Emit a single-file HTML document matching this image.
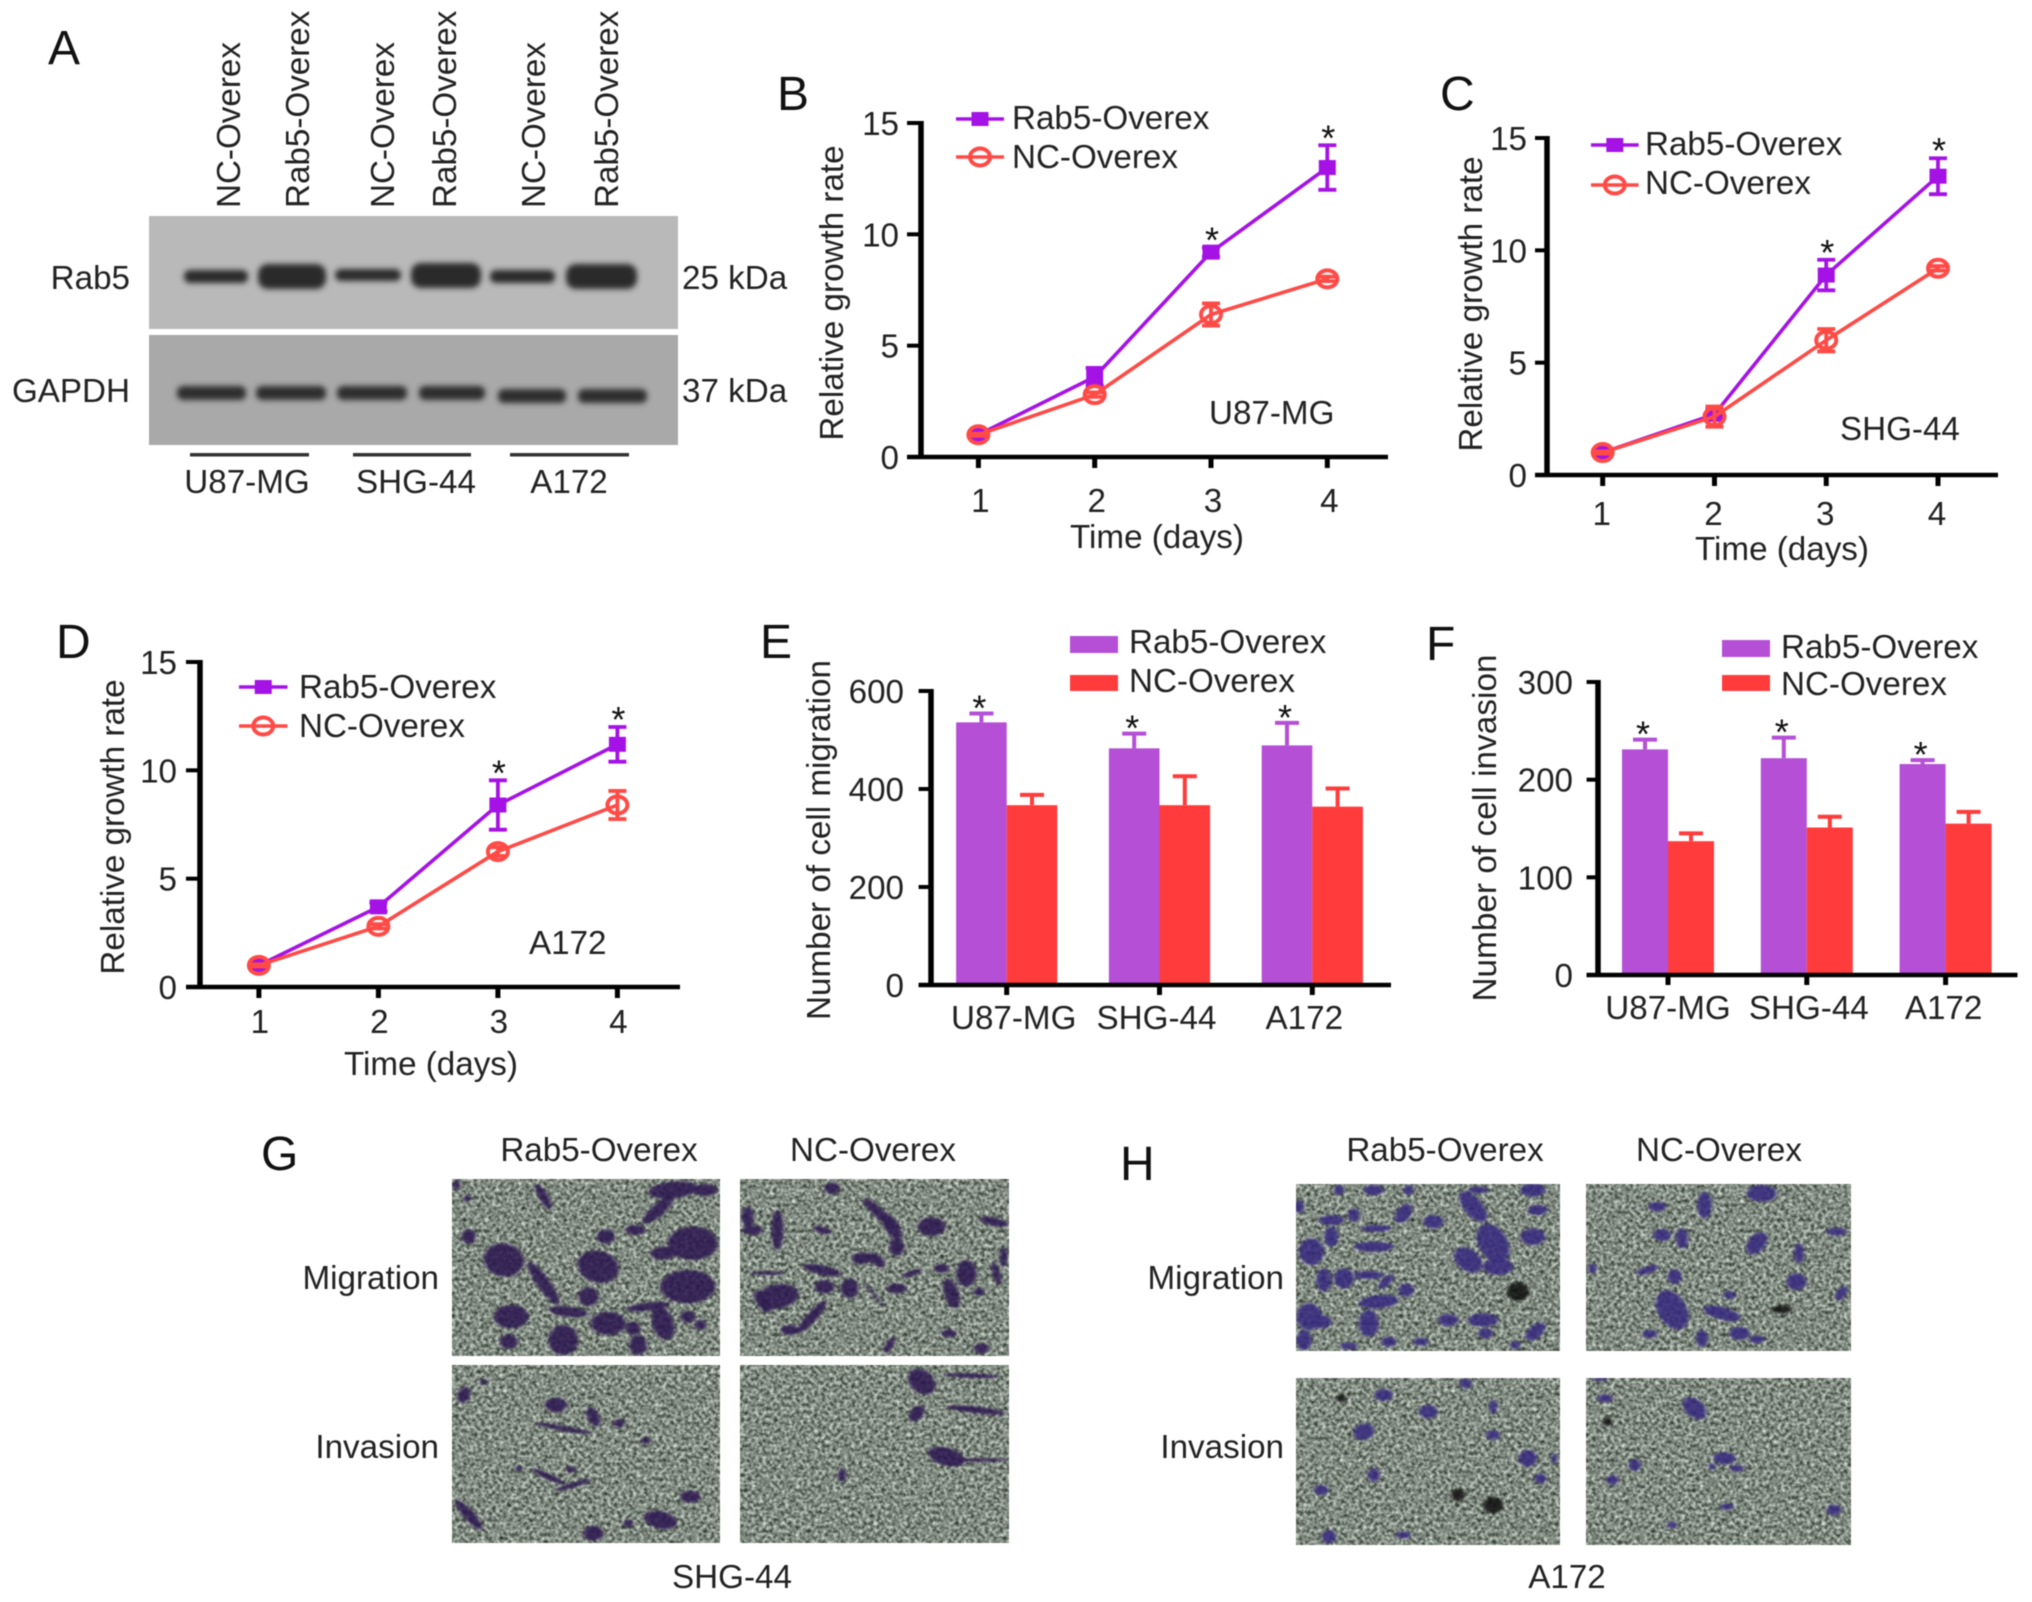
<!DOCTYPE html>
<html lang="en">
<head>
<meta charset="utf-8">
<title>Rab5 overexpression figure</title>
<style>
html,body{margin:0;padding:0;background:#fff;width:2032px;height:1602px;overflow:hidden}
#figure{display:block;filter:blur(0.6px)}
text{font-family:"Liberation Sans",Arial,sans-serif;font-size:33.2px;fill:#222}
.letter{font-size:48px;fill:#111}
.star{font-size:36px;fill:#111}
</style>
</head>
<body>
<svg id="figure" xmlns="http://www.w3.org/2000/svg" width="2032" height="1602" viewBox="0 0 2032 1602">
<defs>
  <filter id="micro-noise" x="0" y="0" width="100%" height="100%" color-interpolation-filters="sRGB">
    <feTurbulence type="fractalNoise" baseFrequency="0.27" numOctaves="3" seed="7"/>
    <feColorMatrix type="matrix" values="0.95 0 0 0 0.03  0.95 0 0 0 0.07  0.95 0 0 0 0.03  0 0 0 0 1"/>
  </filter>
  <filter id="soft-cell" x="-30%" y="-30%" width="160%" height="160%"><feGaussianBlur stdDeviation="3"/></filter>
  <filter id="soft-band" x="-20%" y="-80%" width="140%" height="260%"><feGaussianBlur stdDeviation="3"/></filter>
  <clipPath id="clip-g"><rect x="452" y="1179" width="268" height="177"/><rect x="740" y="1179" width="269" height="177"/><rect x="452" y="1365" width="268" height="178"/><rect x="740" y="1365" width="269" height="178"/></clipPath>
  <clipPath id="clip-h"><rect x="1296" y="1184" width="264" height="167"/><rect x="1586" y="1184" width="265" height="167"/><rect x="1296" y="1378" width="264" height="167"/><rect x="1586" y="1378" width="265" height="167"/></clipPath>
</defs>

<!-- Panel A: western blot -->
<g id="panel-a">
  <text class="letter" x="48" y="64">A</text>
  <text transform="translate(240,208) rotate(-90)">NC-Overex</text>
  <text transform="translate(309,208) rotate(-90)">Rab5-Overex</text>
  <text transform="translate(394,208) rotate(-90)">NC-Overex</text>
  <text transform="translate(456,208) rotate(-90)">Rab5-Overex</text>
  <text transform="translate(545,208) rotate(-90)">NC-Overex</text>
  <text transform="translate(618,208) rotate(-90)">Rab5-Overex</text>
  <rect x="149" y="216" width="529" height="113" fill="#b9b9b9"/>
  <rect x="149" y="335" width="529" height="110" fill="#a9a9a9"/>
  <g filter="url(#soft-band)" fill="#2c2c2c">
    <rect x="184" y="270" width="64" height="13" rx="6"/>
    <rect x="258" y="264" width="68" height="25" rx="10"/>
    <rect x="335" y="269" width="66" height="12" rx="6"/>
    <rect x="411" y="263" width="70" height="25" rx="10"/>
    <rect x="490" y="270" width="65" height="13" rx="6"/>
    <rect x="566" y="264" width="71" height="25" rx="10"/>
  </g>
  <g filter="url(#soft-band)" fill="#2e2e2e">
    <rect x="177" y="386" width="69" height="14" rx="6"/>
    <rect x="256" y="386" width="70" height="14" rx="6"/>
    <rect x="337" y="386" width="70" height="14" rx="6"/>
    <rect x="419" y="386" width="66" height="14" rx="6"/>
    <rect x="498" y="389" width="68" height="14" rx="6"/>
    <rect x="578" y="389" width="69" height="14" rx="6"/>
  </g>
  <text x="130" y="289" text-anchor="end">Rab5</text>
  <text x="130" y="402" text-anchor="end">GAPDH</text>
  <text x="682" y="289">25 kDa</text>
  <text x="682" y="402">37 kDa</text>
  <rect x="190" y="453" width="119" height="3.5" fill="#333"/>
  <rect x="353" y="453" width="118" height="3.5" fill="#333"/>
  <rect x="510" y="453" width="119" height="3.5" fill="#333"/>
  <text x="247" y="493" text-anchor="middle">U87-MG</text>
  <text x="416" y="493" text-anchor="middle">SHG-44</text>
  <text x="569" y="493" text-anchor="middle">A172</text>
</g>

<!-- Panel B -->
<g id="panel-b">
  <text class="letter" x="777" y="110">B</text>
  <text transform="translate(843,293) rotate(-90)" text-anchor="middle">Relative growth rate</text>
  <text x="1157" y="548" text-anchor="middle">Time (days)</text>
  <text x="1209" y="424">U87-MG</text>
  <text x="1012" y="129">Rab5-Overex</text>
  <text x="1012" y="168">NC-Overex</text>
</g>
<!-- Panel C -->
<g id="panel-c">
  <text class="letter" x="1440" y="110">C</text>
  <text transform="translate(1482,304) rotate(-90)" text-anchor="middle">Relative growth rate</text>
  <text x="1782" y="560" text-anchor="middle">Time (days)</text>
  <text x="1840" y="440">SHG-44</text>
  <text x="1645" y="155">Rab5-Overex</text>
  <text x="1645" y="194">NC-Overex</text>
</g>
<!-- Panel D -->
<g id="panel-d">
  <text class="letter" x="56" y="658">D</text>
  <text transform="translate(124,827) rotate(-90)" text-anchor="middle">Relative growth rate</text>
  <text x="431" y="1075" text-anchor="middle">Time (days)</text>
  <text x="529" y="954">A172</text>
  <text x="299" y="698">Rab5-Overex</text>
  <text x="299" y="737">NC-Overex</text>
</g>
<!-- Panel E -->
<g id="panel-e">
  <text class="letter" x="760" y="658">E</text>
  <text transform="translate(830,840) rotate(-90)" text-anchor="middle" textLength="360">Number of cell migration</text>
  <rect x="1070" y="636" width="48" height="17" fill="#b44fd6"/>
  <rect x="1070" y="675" width="48" height="16" fill="#ff3b3b"/>
  <text x="1129" y="653">Rab5-Overex</text>
  <text x="1129" y="692">NC-Overex</text>
</g>
<!-- Panel F -->
<g id="panel-f">
  <text class="letter" x="1426" y="660">F</text>
  <text transform="translate(1496,828) rotate(-90)" text-anchor="middle" textLength="347">Number of cell invasion</text>
  <rect x="1722" y="640" width="48" height="17" fill="#b44fd6"/>
  <rect x="1722" y="675" width="48" height="16" fill="#ff3b3b"/>
  <text x="1781" y="658">Rab5-Overex</text>
  <text x="1781" y="695">NC-Overex</text>
</g>

<!-- Panels G, H: micrographs -->
<g id="panel-g">
  <text class="letter" x="261" y="1170">G</text>
  <text x="599" y="1161" text-anchor="middle">Rab5-Overex</text>
  <text x="873" y="1161" text-anchor="middle">NC-Overex</text>
  <text x="439" y="1289" text-anchor="end">Migration</text>
  <text x="439" y="1458" text-anchor="end">Invasion</text>
  <text x="732" y="1588" text-anchor="middle">SHG-44</text>
  <g clip-path="url(#clip-g)">
    <rect x="452" y="1179" width="268" height="177" filter="url(#micro-noise)"/>
    <rect x="740" y="1179" width="269" height="177" filter="url(#micro-noise)"/>
    <rect x="452" y="1365" width="268" height="178" filter="url(#micro-noise)"/>
    <rect x="740" y="1365" width="269" height="178" filter="url(#micro-noise)"/>
    <g id="cells-g" transform="translate(250,1110) scale(0.4975,0.3333)" filter="url(#soft-cell)"></g>
    <rect x="452" y="1179" width="557" height="364" filter="url(#micro-noise)" opacity="0.1"/>
  </g>
</g>
<g id="panel-h">
  <text class="letter" x="1120" y="1180">H</text>
  <text x="1445" y="1161" text-anchor="middle">Rab5-Overex</text>
  <text x="1719" y="1161" text-anchor="middle">NC-Overex</text>
  <text x="1284" y="1289" text-anchor="end">Migration</text>
  <text x="1284" y="1458" text-anchor="end">Invasion</text>
  <text x="1567" y="1588" text-anchor="middle">A172</text>
  <g clip-path="url(#clip-h)">
    <rect x="1296" y="1184" width="264" height="167" filter="url(#micro-noise)"/>
    <rect x="1586" y="1184" width="265" height="167" filter="url(#micro-noise)"/>
    <rect x="1296" y="1378" width="264" height="167" filter="url(#micro-noise)"/>
    <rect x="1586" y="1378" width="265" height="167" filter="url(#micro-noise)"/>
    <g id="cells-h" transform="translate(1110,1110) scale(0.4975,0.3333)" filter="url(#soft-cell)"></g>
    <rect x="1296" y="1184" width="555" height="361" filter="url(#micro-noise)" opacity="0.1"/>
  </g>
</g>
</svg>

<script>
// ---- Chart data ----
const days = [1, 2, 3, 4];
const growthTicks = [0, 5, 10, 15];
const u87Rab = [1, 3.6, 9.2, 13];
const u87RabErr = [0.05, 0.4, 0.2, 1];
const u87Nc = [1, 2.8, 6.4, 8];
const u87NcErr = [0.05, 0.1, 0.5, 0.1];
const u87Stars = [0, 0, 1, 1];
const shgRab = [1, 2.7, 8.9, 13.3];
const shgRabErr = [0.05, 0.2, 0.68, 0.8];
const shgNc = [1, 2.6, 6, 9.2];
const shgNcErr = [0.05, 0.45, 0.5, 0.1];
const shgStars = [0, 0, 1, 1];
const a172Rab = [1, 3.7, 8.4, 11.2];
const a172RabErr = [0.05, 0.2, 1.14, 0.8];
const a172Nc = [1, 2.8, 6.25, 8.4];
const a172NcErr = [0.05, 0.1, 0.2, 0.65];
const a172Stars = [0, 0, 1, 1];
const cellLines = ['U87-MG', 'SHG-44', 'A172'];
const migrationTicks = [0, 200, 400, 600];
const migrationRab = [536, 483, 489];
const migrationRabTop = [554, 513, 535];
const migrationNc = [367, 367, 364];
const migrationNcTop = [388, 426, 401];
const invasionTicks = [0, 100, 200, 300];
const invasionRab = [231, 222, 216];
const invasionRabTop = [241, 243, 220];
const invasionNc = [137, 151, 155];
const invasionNcTop = [145, 162, 167];

const PURPLE = '#a512e6', RED = '#ff4a46', BAR_PURPLE = '#b44fd6', BAR_RED = '#ff3b3b';
const NS = 'http://www.w3.org/2000/svg';
function mk(tag, attrs, parent) {
  const el = document.createElementNS(NS, tag);
  for (const k in attrs) el.setAttribute(k, attrs[k]);
  parent.appendChild(el);
  return el;
}

function drawAxisY(g, f, ticks, yScale) {
  const axis = mk('line', {x1: f.ax, x2: f.ax, y1: yScale(ticks[ticks.length - 1]) - 2, y2: f.y0 + 2, stroke: '#000', 'stroke-width': 5.5}, g);
  
  
  ticks.forEach(t => {
    const tick = mk('line', {x1: f.left, x2: f.ax, y1: yScale(t), y2: yScale(t), stroke: '#000', 'stroke-width': 4}, g);
    
    
    const lab = mk('text', {x: f.tickRight, y: yScale(t) + 12, 'text-anchor': 'end'}, g);
    lab.textContent = t;
    
    
  });
}
function drawAxisX(g, f) {
  const axis = mk('line', {x1: f.left, x2: f.right, y1: f.y0, y2: f.y0, stroke: '#000', 'stroke-width': 4.5}, g);
  
  
}

function drawSeries(g, vals, errs, xScale, yScale, color, kind) {
  const pts = vals.map((v, i) => xScale(days[i]) + ',' + yScale(v)).join(' ');
  const line = mk('polyline', {points: pts, fill: 'none', stroke: color, 'stroke-width': 3.6, 'stroke-linejoin': 'round'}, g);
  
  
  vals.forEach((v, i) => {
    const x = xScale(days[i]), yHi = yScale(v + errs[i]), yLo = yScale(v - errs[i]);
    const stem = mk('path', {d: 'M' + x + ' ' + yHi + 'V' + yLo + 'M' + (x - 9) + ' ' + yHi + 'H' + (x + 9) + 'M' + (x - 9) + ' ' + yLo + 'H' + (x + 9), fill: 'none', stroke: color, 'stroke-width': 3.8}, g);
    
    
    if (kind === 'rab5') {
      const m = mk('rect', {x: x - 8.5, y: yScale(v) - 7.5, width: 17, height: 15, fill: color}, g);
      
      
    } else {
      const m = mk('ellipse', {cx: x, cy: yScale(v), rx: 10, ry: 8.5, fill: 'none', stroke: color, 'stroke-width': 4}, g);
      
      
    }
  });
}

function drawLineChart(id, f, rab, rabErr, nc, ncErr, stars) {
  const g = document.getElementById(id);
  const xScale = d => f.x1 + (d - 1) * (f.x4 - f.x1) / 3;
  const yScale = v => f.y0 - v * (f.y0 - f.yTop) / 15;
  drawAxisY(g, f, growthTicks, yScale);
  drawAxisX(g, f);
  days.forEach(d => {
    const tick = mk('line', {x1: xScale(d), x2: xScale(d), y1: f.y0, y2: f.y0 + 11, stroke: '#000', 'stroke-width': 5}, g);
    
    
    const lab = mk('text', {x: xScale(d) + f.tickShift, y: f.tickBase, 'text-anchor': 'middle'}, g);
    lab.textContent = d;
    
    
  });
  drawSeries(g, rab, rabErr, xScale, yScale, PURPLE, 'rab5');
  drawSeries(g, nc, ncErr, xScale, yScale, RED, 'nc');
  stars.forEach((s, i) => {
    if (!s) return;
    const st = mk('text', {class: 'star', x: xScale(days[i]) + 1, y: yScale(rab[i] + rabErr[i]) + 5, 'text-anchor': 'middle'}, g);
    st.textContent = '*';
    
    
  });
  const l1 = mk('line', {x1: f.lx1, x2: f.lx2, y1: f.ly1, y2: f.ly1, stroke: PURPLE, 'stroke-width': 3.6}, g);
  
  
  const m1 = mk('rect', {x: (f.lx1 + f.lx2) / 2 - 8.5, y: f.ly1 - 7, width: 17, height: 14, fill: PURPLE}, g);
  
  
  const l2 = mk('line', {x1: f.lx1, x2: f.lx2, y1: f.ly2, y2: f.ly2, stroke: RED, 'stroke-width': 3.6}, g);
  
  
  const m2 = mk('ellipse', {cx: (f.lx1 + f.lx2) / 2, cy: f.ly2, rx: 10, ry: 8.5, fill: 'none', stroke: RED, 'stroke-width': 4}, g);
  
  
}

function drawBarChart(id, f, ticks, rab, rabTop, nc, ncTop) {
  const g = document.getElementById(id);
  const maxV = ticks[ticks.length - 1];
  const yScale = v => f.y0 - v * (f.y0 - f.yTop) / maxV;
  const cx = i => f.c0 + i * f.step;
  cellLines.forEach((name, i) => {
    const c = cx(i);
    [[rab, rabTop, BAR_PURPLE, c - f.bw, 'rab5'], [nc, ncTop, BAR_RED, c, 'nc']].forEach(s => {
      const v = s[0][i], top = s[1][i], bx = s[3];
      const err = mk('path', {d: 'M' + (bx + f.bw / 2) + ' ' + yScale(v) + 'V' + yScale(top) + 'M' + (bx + f.bw / 2 - 12) + ' ' + yScale(top) + 'H' + (bx + f.bw / 2 + 12), stroke: s[2], 'stroke-width': 4, fill: 'none'}, g);
      
      
      const bar = mk('rect', {x: bx, y: yScale(v), width: f.bw, height: f.y0 - yScale(v), fill: s[2]}, g);
      
      
    });
    const st = mk('text', {class: 'star', x: c - f.bw / 2 - 2, y: yScale(rabTop[i]) + 7, 'text-anchor': 'middle'}, g);
    st.textContent = '*';
    
    
    const tick = mk('line', {x1: c, x2: c, y1: f.y0, y2: f.y0 + 10, stroke: '#000', 'stroke-width': 5}, g);
    
    
    const lab = mk('text', {x: c + f.labelShift[i], y: f.tickBase, 'text-anchor': 'middle'}, g);
    lab.textContent = name;
    
    
  });
  drawAxisY(g, f, ticks, yScale);
  drawAxisX(g, f);
}

drawLineChart('panel-b', {x1: 978.4, x4: 1327.3, ax: 921, yTop: 123, y0: 457, left: 907, right: 1388, tickRight: 899, tickBase: 512, tickShift: 2, lx1: 956, lx2: 1004, ly1: 119, ly2: 157}, u87Rab, u87RabErr, u87Nc, u87NcErr, u87Stars);
drawLineChart('panel-c', {x1: 1602.7, x4: 1938, ax: 1547, yTop: 138, y0: 475, left: 1535, right: 1998, tickRight: 1527, tickBase: 525, tickShift: -1, lx1: 1591, lx2: 1638.6, ly1: 145, ly2: 185}, shgRab, shgRabErr, shgNc, shgNcErr, shgStars);
drawLineChart('panel-d', {x1: 258.9, x4: 617.4, ax: 200, yTop: 662, y0: 987, left: 186, right: 680, tickRight: 177, tickBase: 1033, tickShift: 1, lx1: 239, lx2: 287.5, ly1: 687, ly2: 726}, a172Rab, a172RabErr, a172Nc, a172NcErr, a172Stars);
drawBarChart('panel-e', {ax: 931, yTop: 691, y0: 985, left: 918.6, right: 1391, tickRight: 904, tickBase: 1029, c0: 1006.7, step: 152.8, bw: 50.6, labelShift: [7, -3, -8]}, migrationTicks, migrationRab, migrationRabTop, migrationNc, migrationNcTop);
drawBarChart('panel-f', {ax: 1598, yTop: 682, y0: 975, left: 1586.6, right: 2017.5, tickRight: 1573, tickBase: 1019, c0: 1668, step: 138.8, bw: 46, labelShift: [0, 2, -2]}, invasionTicks, invasionRab, invasionRabTop, invasionNc, invasionNcTop);

// ---- Micrograph decoration: stained cell blobs (cx, cy, rx, ry, rotation) ----
const cellsG = [[590,260,10,40,-20],[850,240,50,25,-10],[915,240,25,18,0],[820,300,15,50,35],[440,380,14,22,0],[775,360,20,15,0],[715,380,18,22,0],[510,450,40,50,-10],[590,520,14,70,-25],[700,470,40,50,-20],[890,400,50,50,0],[830,430,25,20,0],[880,530,55,50,0],[680,560,20,28,0],[640,605,40,15,10],[800,590,45,12,-10],[525,620,35,35,0],[520,695,18,22,0],[630,690,30,45,0],[720,640,35,35,0],[830,640,22,50,-10],[880,620,15,18,0],[780,705,18,30,0],[770,655,15,20,0],[905,645,12,15,0],[415,225,8,15,0],[437,265,10,8,0],
[1170,235,15,18,0],[1000,320,12,30,0],[1010,360,20,15,0],[1060,360,12,60,0],[1150,360,20,10,30],[1265,310,12,55,-35],[1290,350,15,40,-20],[1300,410,15,28,0],[1370,350,28,28,0],[1495,335,30,12,20],[1230,445,20,18,0],[1260,450,12,25,-30],[1150,480,40,14,20],[1515,440,8,30,0],[1390,475,15,14,0],[1440,490,20,40,0],[1500,490,8,35,-10],[1330,490,22,8,-30],[1040,490,35,5,0],[1060,560,45,35,-30],[1030,575,12,35,-20],[1155,530,20,20,0],[1205,535,18,30,0],[1300,535,20,15,0],[1410,550,15,45,-10],[1130,620,12,55,30],[1085,660,18,15,0],[1255,555,3,40,-30],[1285,705,8,25,20],[1470,715,15,15,0],[1405,670,15,12,0],[1465,545,12,12,0],
[430,855,12,25,10],[615,885,22,22,0],[690,920,12,30,-15],[630,955,60,7,15],[742,940,12,12,0],[795,992,10,10,0],[645,1078,10,10,0],[600,1100,40,8,35],[650,1125,40,7,-25],[885,1160,20,18,0],[440,1215,12,50,-30],[825,1230,35,25,30],[690,1270,20,22,0],[760,1240,10,12,0],[470,815,8,8,0],[540,1075,8,8,0],
[1350,815,25,40,-20],[1450,797,55,7,3],[1460,900,60,10,10],[1340,910,14,25,20],[1400,1040,40,25,30],[1460,1050,65,5,0],[1190,1095,8,20,0]];
const cellsH = [[380,290,10,20,0],[445,330,25,15,0],[490,315,12,20,0],[535,355,30,10,0],[590,310,15,30,20],[650,335,20,20,0],[530,240,20,15,0],[600,240,10,15,0],[460,240,10,15,0],[730,290,20,50,-25],[770,400,30,60,-15],[720,450,25,40,-25],[780,470,30,25,0],[850,380,25,25,0],[850,240,25,20,0],[740,240,20,10,0],[860,300,20,15,0],[405,425,25,40,0],[445,380,14,30,0],[530,410,40,15,0],[430,510,15,35,0],[470,505,20,30,0],[520,495,30,12,0],[555,515,10,25,30],[540,575,40,20,-10],[595,540,15,20,0],[680,630,20,18,0],[750,630,30,20,0],[400,620,25,40,0],[425,635,20,20,0],[520,640,20,40,0],[855,665,15,30,30],[755,670,15,15,0],[390,690,15,30,0],[480,708,18,10,0],[560,695,15,15,0],[625,695,15,12,0],[815,705,10,12,0],
[1100,290,18,14,0],[1195,285,14,40,0],[1310,250,30,25,0],[1110,375,18,18,0],[1150,385,12,30,0],[1300,400,18,35,20],[1460,365,20,12,0],[1385,430,10,30,0],[1380,515,20,25,0],[970,475,8,15,0],[1080,480,25,10,-30],[1135,500,14,22,0],[1245,555,12,12,0],[1130,600,30,60,-15],[1230,610,40,18,25],[1265,670,20,20,0],[1190,685,12,25,0],[1300,688,15,12,0],[1085,672,15,12,0],[1470,550,10,22,20],
[715,820,12,15,0],[550,855,18,18,0],[640,905,18,20,0],[510,965,20,25,20],[770,890,8,20,0],[770,975,14,14,0],[840,1045,18,25,0],[865,1105,12,15,0],[530,1095,12,20,0],[425,1140,14,15,0],[440,1280,14,20,0],[590,1275,15,10,0],[893,1045,6,15,0],
[985,808,15,5,0],[1175,895,20,35,-25],[995,865,15,12,0],[1055,1065,12,18,0],[1235,1045,22,18,0],[1260,1075,14,10,0],[1210,1070,7,10,0],[1010,1110,12,15,0],[1240,1190,14,10,0],[1455,1200,14,16,0],[1130,1245,10,10,0]];
const darkH = [[820,545,22,28,0],[465,865,10,12,0],[700,1155,14,18,0],[770,1185,20,25,0],[1350,598,20,12,0],[1000,935,10,12,0]];

function drawCells(id, list, fill) {
  const g = document.getElementById(id);
  list.forEach(c => {
    const e = mk('ellipse', {cx: c[0], cy: c[1], rx: c[2], ry: c[3], fill: fill, 'fill-opacity': 0.95, transform: 'rotate(' + c[4] + ' ' + c[0] + ' ' + c[1] + ')'}, g);
    
    
  });
}
drawCells('cells-g', cellsG, '#2a1650');
drawCells('cells-h', cellsH, '#35267e');
drawCells('cells-h', darkH, '#0e0a12');
</script>
</body>
</html>
